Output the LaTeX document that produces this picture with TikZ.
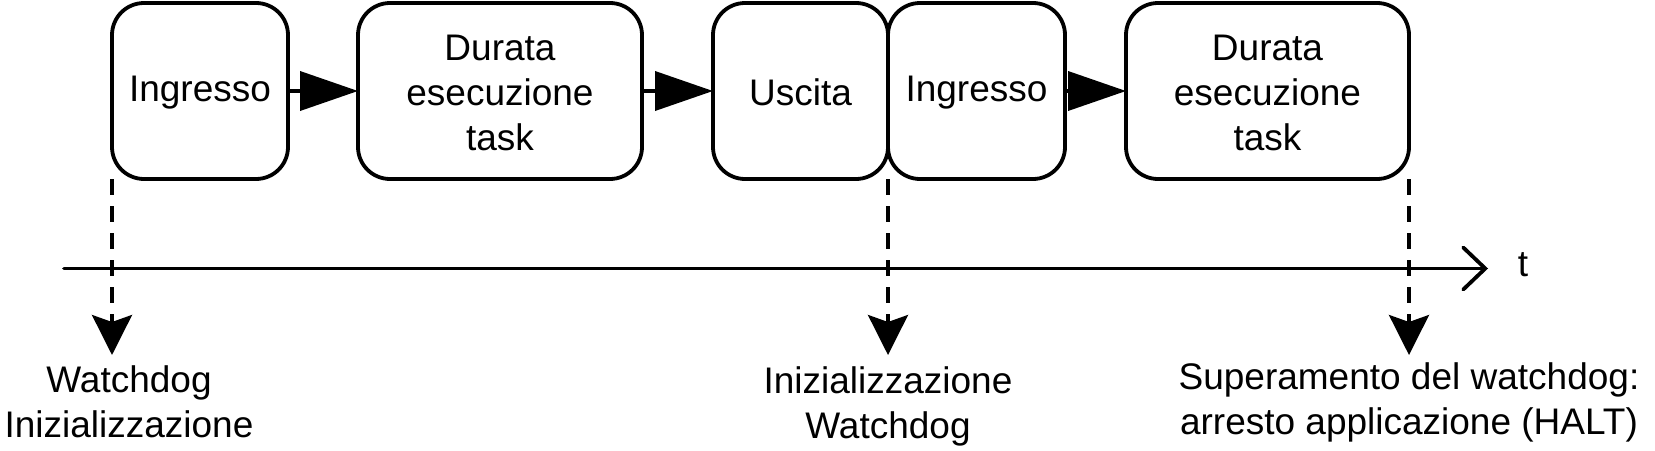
\documentclass[tikz,border=0pt]{standalone}
\usepackage{fontspec}
\setmainfont{Liberation Sans}
\usetikzlibrary{arrows.meta}
\begin{document}
\begin{tikzpicture}[x=1pt,y=-1pt,
  every node/.style={font=\fontsize{37pt}{45pt}\selectfont, inner sep=0pt, outer sep=0pt, align=center},
  taskbox/.style={draw, line width=3.8pt, rounded corners=32pt, minimum height=176pt},
  flow/.style={line width=3.8pt, -{Triangle[length=58pt,width=39pt]}},
  mark line/.style={line width=3.6pt, dash pattern=on 16pt off 11pt, -{Stealth[length=40pt,width=40pt,inset=7pt]}},
  axis/.style={line width=3.8pt, line cap=round, -{Straight Barb[length=22pt,width=42pt,line cap=round]}}]
\useasboundingbox (0,0) rectangle (1655,450);
% task boxes
\node[taskbox, minimum width=176pt] (b1) at (200,91) {};
\node[taskbox, minimum width=284pt] (b2) at (500,91) {};
\node[taskbox, minimum width=175pt] (b3) at (800.5,91) {};
\node[taskbox, minimum width=177pt] (b4) at (976.5,91) {};
\node[taskbox, minimum width=283pt] (b5) at (1267.5,91) {};
\node (t1) at (200,92.5) {Ingresso};
\node (t2) at (500,93) {Durata\\esecuzione\\task};
\node (t3) at (800.5,92.5) {Uscita};
\node (t4) at (976.5,92.5) {Ingresso};
\node (t5) at (1267.5,93) {Durata\\esecuzione\\task};
% flow arrows
\draw[flow] (b1.east) -- (b2.west);
\draw[flow] (b2.east) -- (b3.west);
\draw[flow] (b4.east) -- (b5.west);
% time axis
\coordinate (a0) at (64,268.5);
\coordinate (a1) at (1488,268.5);
\draw[axis] (a0) -- (a1);
\node (tl) at (1523,265) {t};
% event markers
\coordinate (e1) at (112,355);
\coordinate (e2) at (888,355);
\coordinate (e3) at (1409,355);
\draw[mark line] (b1.south west) -- (e1);
\draw[mark line] (b3.south east) -- (e2);
\draw[mark line] (b5.south east) -- (e3);
\node (l1) at (129,402) {Watchdog\\Inizializzazione};
\node (l2) at (888,406) {Inizializzazione\\Watchdog};
\node (l3) at (1409,402) {Superamento del watchdog:\\arresto applicazione (HALT)};
\end{tikzpicture}
\end{document}
